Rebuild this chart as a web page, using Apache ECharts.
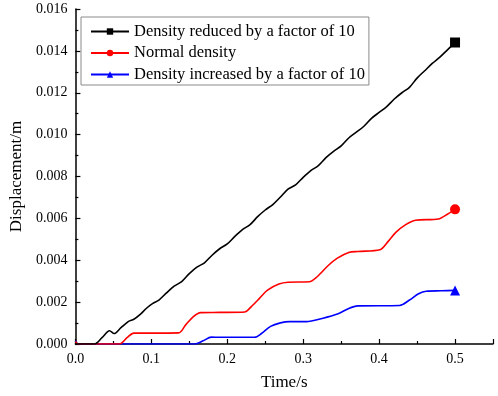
<!DOCTYPE html>
<html>
<head>
<meta charset="utf-8">
<script src="https://cdn.jsdelivr.net/npm/echarts@6/dist/echarts.min.js"></script>
<style>
    html, body { margin: 0; padding: 0; background: #fff; }
    #chart { width: 498px; height: 396px; }
</style>
</head>
<body>
<div id="chart"></div>
<script>
// Series names
const seriesNames = [
    'Density reduced by a factor of 10',
    'Normal density',
    'Density increased by a factor of 10'
];
const seriesColors = ['#000000', '#ff0000', '#0000ff'];
const seriesSymbols = ['rect', 'circle', 'triangle'];

// Density reduced by a factor of 10 (black)
const timeLow = [0, 0.025, 0.035, 0.045, 0.051, 0.06, 0.07, 0.077, 0.085, 0.094, 0.102, 0.11, 0.12, 0.13, 0.14, 0.15,
    0.16, 0.17, 0.18, 0.19, 0.20, 0.21, 0.22, 0.23, 0.24, 0.25, 0.26, 0.27, 0.28, 0.29, 0.30, 0.31, 0.32, 0.33,
    0.34, 0.35, 0.36, 0.37, 0.38, 0.39, 0.40, 0.41, 0.42, 0.43, 0.44, 0.45, 0.46, 0.47, 0.48, 0.49, 0.50];
const dispLow = [0, 0, 0.0003, 0.00063, 0.0005, 0.00078, 0.00108, 0.00118, 0.0014, 0.00172, 0.00194, 0.0021, 0.00244, 0.00276, 0.00298, 0.00336,
    0.00367, 0.00388, 0.00424, 0.00455, 0.00478, 0.00514, 0.00546, 0.0057, 0.00608, 0.0064, 0.00666, 0.00702, 0.0074, 0.0076, 0.00796, 0.00828, 0.00852, 0.0089,
    0.0092, 0.00946, 0.00984, 0.01012, 0.0104, 0.01078, 0.01106, 0.01134, 0.0117, 0.012, 0.01226, 0.0127, 0.01305, 0.0134, 0.0137, 0.01405, 0.0144];

// Normal density (red)
const timeNormal = [0, 0.004, 0.058, 0.068, 0.077, 0.1, 0.136, 0.145, 0.155, 0.165, 0.19, 0.223, 0.232, 0.243, 0.253, 0.268,
    0.28, 0.308, 0.318, 0.333, 0.345, 0.36, 0.372, 0.401, 0.412, 0.422, 0.435, 0.448, 0.478, 0.49, 0.5];
const dispNormal = [0.00012, 0, 0, 0.0003, 0.00052, 0.00052, 0.00053, 0.0009, 0.0013, 0.0015, 0.00151, 0.00153, 0.0018, 0.0022, 0.00257, 0.00286,
    0.00295, 0.00297, 0.0032, 0.00375, 0.0041, 0.00437, 0.00442, 0.0045, 0.0049, 0.00533, 0.0057, 0.00591, 0.00597, 0.0062, 0.00643];

// Density increased by a factor of 10 (blue)
const timeHigh = [0, 0.004, 0.157, 0.168, 0.179, 0.19, 0.236, 0.245, 0.257, 0.27, 0.282, 0.304, 0.325, 0.346, 0.36, 0.372,
    0.427, 0.44, 0.452, 0.462, 0.482, 0.5];
const dispHigh = [0.00015, 0, 0, 0.00015, 0.00033, 0.00032, 0.00032, 0.0005, 0.00084, 0.00101, 0.00107, 0.00107, 0.00122, 0.00144, 0.0017, 0.00182,
    0.00184, 0.0021, 0.0024, 0.00252, 0.00254, 0.00256];

const allTimes = [timeLow, timeNormal, timeHigh];
const allDisps = [dispLow, dispNormal, dispHigh];

const fontFamily = '"Liberation Serif", "Times New Roman", serif';

const myChart = echarts.init(document.getElementById('chart'));

let series = [];
for (let i = 0; i < seriesNames.length; i++) {
    const pts = allTimes[i].map((t, j) => [t, allDisps[i][j]]);
    const last = pts.length - 1;
    series[i] = {
        name: seriesNames[i],
        type: 'line',
        data: pts,
        smooth: 0.3,
        symbol: seriesSymbols[i],
        showAllSymbol: true,
        symbolSize: (val, params) => params.dataIndex === last ? 10 : 0,
        lineStyle: { color: seriesColors[i], width: 1.6 },
        itemStyle: { color: seriesColors[i] },
        z: 3 - i
    };
}

const axisText = { color: '#000', fontFamily: fontFamily, fontSize: 14 };

const option = {
    backgroundColor: '#fff',
    animation: false,
    textStyle: { fontFamily: fontFamily },
    grid: { left: 61, right: 5, top: 9, bottom: 48 },
    legend: {
        data: seriesNames,
        orient: 'vertical',
        left: 81,
        top: 17,
        itemWidth: 38,
        itemHeight: 8,
        itemGap: 4.5,
        padding: [6, 4, 2, 9],
        borderColor: '#8a8a8a',
        borderWidth: 1,
        textStyle: { color: '#000', fontFamily: fontFamily, fontSize: 16.5 }
    },
    xAxis: {
        type: 'value',
        min: 0,
        max: 0.55,
        interval: 0.1,
        name: 'Time/s',
        nameLocation: 'middle',
        nameGap: 30,
        nameTextStyle: { color: '#000', fontFamily: fontFamily, fontSize: 17 },
        axisLine: { lineStyle: { color: '#000', width: 1.5 } },
        axisTick: { inside: true, length: 5, lineStyle: { color: '#000', width: 1.2 } },
        minorTick: { show: true, splitNumber: 2, length: 3, lineStyle: { color: '#000', width: 1.2 } },
        splitLine: { show: false },
        axisLabel: Object.assign({
            margin: 8,
            showMaxLabel: false,
            formatter: v => (Math.abs(v * 10 - Math.round(v * 10)) < 1e-6 ? v.toFixed(1) : '')
        }, axisText)
    },
    yAxis: {
        type: 'value',
        min: 0,
        max: 0.016,
        interval: 0.002,
        name: 'Displacement/m',
        nameLocation: 'middle',
        nameGap: 41,
        nameTextStyle: { color: '#000', fontFamily: fontFamily, fontSize: 17 },
        axisLine: { show: true, lineStyle: { color: '#000', width: 1.5 } },
        axisTick: { show: true, inside: true, length: 5, lineStyle: { color: '#000', width: 1.2 } },
        minorTick: { show: true, splitNumber: 2, length: 3, lineStyle: { color: '#000', width: 1.2 } },
        splitLine: { show: false },
        axisLabel: Object.assign({
            margin: 8,
            formatter: v => v.toFixed(3)
        }, axisText)
    },
    series: series
};

myChart.setOption(option, true);
</script>
</body>
</html>
